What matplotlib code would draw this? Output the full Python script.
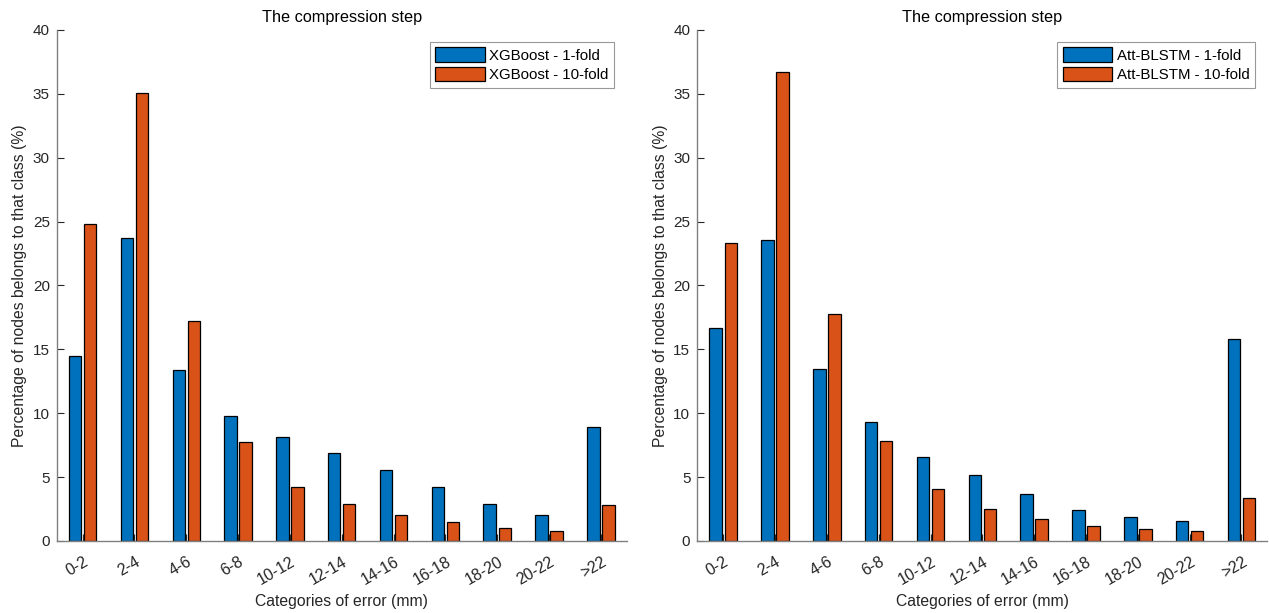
import matplotlib
matplotlib.use("Agg")
import matplotlib.pyplot as plt
import matplotlib.transforms as mtransforms
import numpy as np

plt.rcParams['font.family'] = ['Liberation Sans', 'DejaVu Sans']

categories = ['0-2', '2-4', '4-6', '6-8', '10-12', '12-14', '14-16', '16-18', '18-20', '20-22', '>22']

xgb_1fold = [14.5, 23.7, 13.35, 9.75, 8.15, 6.85, 5.55, 4.2, 2.9, 2.0, 8.95]
xgb_10fold = [24.85, 35.05, 17.2, 7.75, 4.2, 2.9, 2.0, 1.45, 1.0, 0.75, 2.85]

blstm_1fold = [16.65, 23.55, 13.5, 9.35, 6.6, 5.15, 3.7, 2.45, 1.85, 1.55, 15.8]
blstm_10fold = [23.3, 36.7, 17.75, 7.85, 4.1, 2.5, 1.7, 1.2, 0.9, 0.75, 3.4]

panels = [
    ("XGBoost - 1-fold", "XGBoost - 10-fold", xgb_1fold, xgb_10fold),
    ("Att-BLSTM - 1-fold", "Att-BLSTM - 10-fold", blstm_1fold, blstm_10fold),
]

blue = '#0072BD'
orange = '#D95319'
axcol = '#262626'

fig = plt.figure(figsize=(12.69, 6.13), dpi=100)
positions = [[0.0447, 0.1175, 0.4492, 0.8336], [0.5495, 0.1175, 0.4492, 0.8336]]

x = np.arange(1, len(categories) + 1)
w = 0.24
off = 0.145

for pos, (l1, l2, v1, v2) in zip(positions, panels):
    ax = fig.add_axes(pos)
    ax.bar(x - off, v1, width=w, color=blue, edgecolor='black', linewidth=0.9, label=l1)
    ax.bar(x + off, v2, width=w, color=orange, edgecolor='black', linewidth=0.9, label=l2)
    ax.set_xlim(0.5, len(categories) + 0.5)
    ax.set_ylim(0, 40)
    ax.set_yticks(np.arange(0, 41, 5))
    ax.set_xticks(x)
    ax.set_xticklabels([])
    lab_tr = ax.get_xaxis_transform() + mtransforms.ScaledTranslation(8 / 100, -13 / 100, fig.dpi_scale_trans)
    for xi, c in zip(x, categories):
        ax.text(xi, 0, c, transform=lab_tr, rotation=30, ha='right', va='top',
                fontsize=11.5, color=axcol)
    ax.tick_params(axis='y', labelsize=11, colors=axcol, direction='in', length=5, width=0.8, pad=5)
    ax.tick_params(axis='x', colors=axcol, direction='in', length=5, width=0.8, pad=0)
    for s in ['top', 'right']:
        ax.spines[s].set_visible(False)
    for s in ['left', 'bottom']:
        ax.spines[s].set_color('#808080')
        ax.spines[s].set_linewidth(1.0)
    ax.set_title("The compression step", fontsize=11.7, color='black', pad=6)
    ax.set_xlabel("Categories of error (mm)", fontsize=11.3, color=axcol, labelpad=38.5)
    ax.set_ylabel("Percentage of nodes belongs to that class (%)", fontsize=11.3, color=axcol, labelpad=4)
    leg = ax.legend(loc='upper right', fontsize=10.8, frameon=True, fancybox=False,
                    edgecolor='#808080', borderpad=0.35, handlelength=3.3, handleheight=1.1,
                    handletextpad=0.3, labelspacing=0.3, borderaxespad=0,
                    bbox_to_anchor=(0.9777, 0.9765))
    leg.get_frame().set_linewidth(0.8)

fig.savefig("out.png", dpi=100)
